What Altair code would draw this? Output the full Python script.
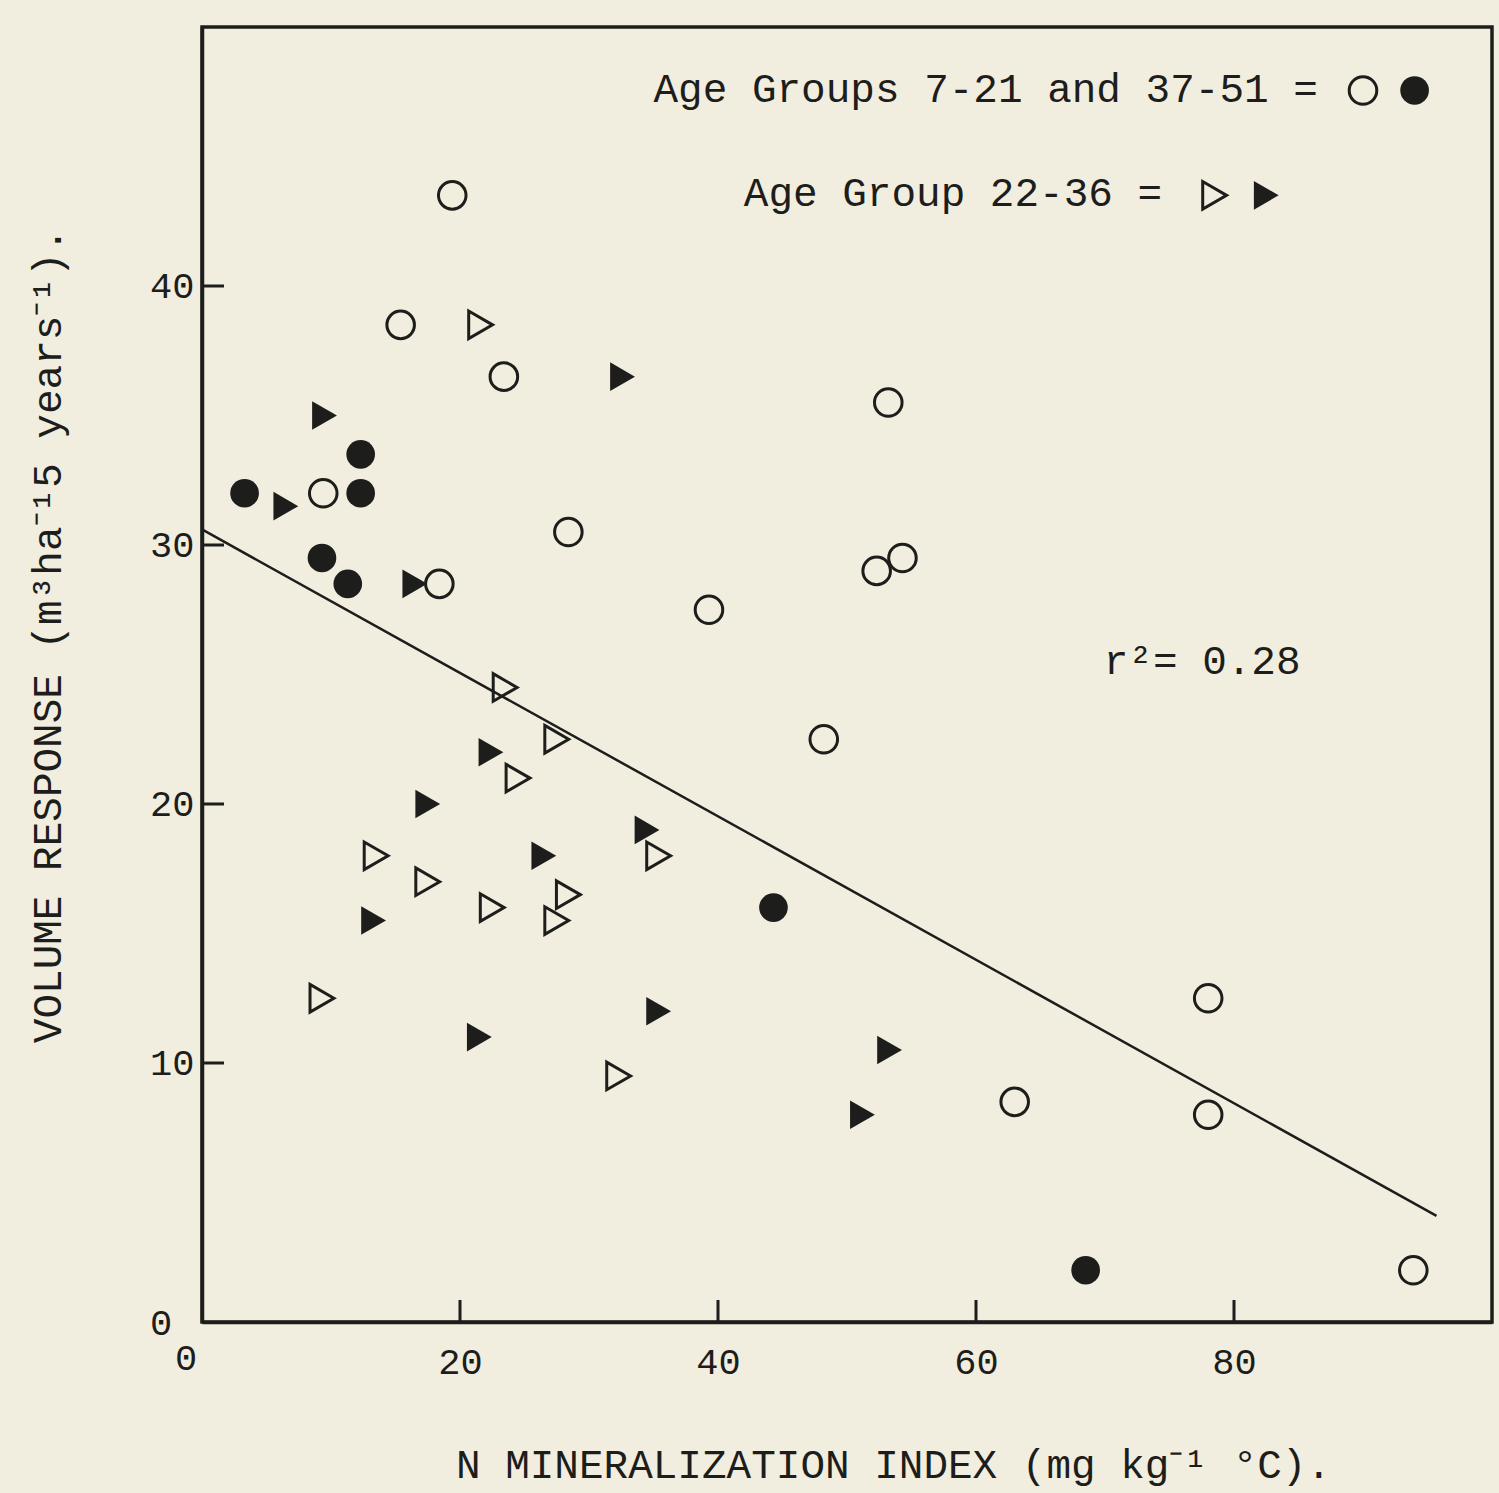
import altair as alt
import pandas as pd

INK = "#1d1d1b"
PAPER = "#f2eedf"
FONT = "Liberation Mono"

# Volume response vs N mineralization index
# Age groups 7-21 and 37-51 (circles)
open_circle_x = [19.4, 15.4, 23.4, 53.2, 9.4, 28.4, 54.3, 52.3, 18.4, 39.3, 48.2, 78.0, 63.0, 78.0, 93.9]
open_circle_y = [43.5, 38.5, 36.5, 35.5, 32.0, 30.5, 29.5, 29.0, 28.5, 27.5, 22.5, 12.5, 8.5, 8.0, 2.0]
filled_circle_x = [3.3, 12.3, 12.3, 9.3, 11.3, 44.3, 68.5]
filled_circle_y = [32.0, 33.5, 32.0, 29.5, 28.5, 16.0, 2.0]

# Age group 22-36 (triangles)
open_tri_x = [21.6, 23.5, 27.5, 24.5, 13.5, 17.5, 22.5, 28.4, 27.5, 35.4, 9.3, 32.3]
open_tri_y = [38.5, 24.5, 22.5, 21.0, 18.0, 17.0, 16.0, 16.5, 15.5, 18.0, 12.5, 9.5]
filled_tri_x = [32.6, 9.5, 6.5, 16.5, 22.4, 17.5, 34.5, 26.5, 13.3, 35.4, 21.5, 53.3, 51.2]
filled_tri_y = [36.5, 35.0, 31.5, 28.5, 22.0, 20.0, 19.0, 18.0, 15.5, 12.0, 11.0, 10.5, 8.0]

# Fitted regression line (end points)
reg_x = [0.0, 95.7]
reg_y = [30.6, 4.1]
r_squared = 0.28

x_ticks = [20, 40, 60, 80]
y_ticks = [10, 20, 30, 40]

W, H = 1290, 1295
TICK_LEN = 22


def df(xs, ys):
    return pd.DataFrame({"x": xs, "y": ys})


x_scale = alt.Scale(domain=[0, 100], nice=False, zero=False)
y_scale = alt.Scale(domain=[0, 50], nice=False, zero=False)

x_axis = alt.Axis(
    values=x_ticks, ticks=False, tickSize=0, grid=False,
    domainColor=INK, domainWidth=3.5,
    labelFont=FONT, labelFontSize=37, labelColor=INK, labelPadding=22,
    title="N MINERALIZATION INDEX (mg kg⁻¹ °C).",
    titleFont=FONT, titleFontSize=41, titleFontWeight="normal", titleColor=INK,
    titleX=691, titleY=143, titleAlign="center", titleBaseline="middle",
)
y_axis = alt.Axis(
    values=y_ticks, ticks=False, tickSize=0, grid=False,
    domainColor=INK, domainWidth=3.5,
    labelFont=FONT, labelFontSize=37, labelColor=INK, labelPadding=8,
    title="VOLUME RESPONSE (m³ha⁻¹5 years⁻¹).",
    titleFont=FONT, titleFontSize=41, titleFontWeight="normal", titleColor=INK,
    titleX=-154, titleY=608, titleAngle=270, titleAlign="center", titleBaseline="middle",
)

X = alt.X("x:Q", scale=x_scale, axis=x_axis)
Y = alt.Y("y:Q", scale=y_scale, axis=y_axis)

SYM_OPEN = 760
SYM_FILLED = 820


def points(data, shape, filled):
    if filled:
        mk = alt.Chart(data).mark_point(shape=shape, filled=True, size=SYM_FILLED, color=INK, opacity=1, strokeWidth=0)
    else:
        mk = alt.Chart(data).mark_point(shape=shape, filled=False, size=SYM_OPEN, color=INK, opacity=1, strokeWidth=3)
    return mk.encode(x=X, y=Y)


reg = alt.Chart(df(reg_x, reg_y)).mark_line(color=INK, strokeWidth=2.5).encode(x=X, y=Y)

x_tick_marks = alt.Chart(pd.DataFrame({"x": x_ticks})).mark_rule(color=INK, strokeWidth=3).encode(
    x=X, y=alt.value(H), y2=alt.value(H - TICK_LEN)
)
y_tick_marks = alt.Chart(pd.DataFrame({"y": y_ticks})).mark_rule(color=INK, strokeWidth=3).encode(
    y=Y, x=alt.value(0), x2=alt.value(TICK_LEN)
)

zero_labels = alt.Chart(pd.DataFrame({"t": ["0", "0"], "px": [-16, -41], "py": [1332, 1297]})).mark_text(
    font=FONT, fontSize=37, color=INK, align="center", baseline="middle"
).encode(x=alt.X("px:Q", scale=None), y=alt.Y("py:Q", scale=None), text="t:N")


def label(x, y, t, size=41, align="left"):
    return alt.Chart(pd.DataFrame({"x": [x], "y": [y], "t": [t]})).mark_text(
        font=FONT, fontSize=size, color=INK, align=align, baseline="middle"
    ).encode(x=X, y=Y, text="t:N")


legend = [
    label(35.0, 47.55, "Age Groups 7-21 and 37-51 ="),
    points(df([90.0], [47.55]), "circle", False),
    points(df([94.0], [47.55]), "circle", True),
    label(42.0, 43.55, "Age Group 22-36 ="),
    points(df([78.5], [43.5]), "triangle-right", False),
    points(df([82.5], [43.5]), "triangle-right", True),
    label(69.9, 25.5, f"r²= {r_squared:.2f}"),
]

chart = alt.layer(
    reg,
    x_tick_marks,
    y_tick_marks,
    points(df(open_circle_x, open_circle_y), "circle", False),
    points(df(filled_circle_x, filled_circle_y), "circle", True),
    points(df(open_tri_x, open_tri_y), "triangle-right", False),
    points(df(filled_tri_x, filled_tri_y), "triangle-right", True),
    zero_labels,
    *legend,
).properties(
    width=W,
    height=H,
    autosize=alt.AutoSizeParams(type="none"),
    padding={"left": 202, "top": 27, "right": 7, "bottom": 171},
    background=PAPER,
).configure_view(
    stroke=INK, strokeWidth=3.5
)

chart.save("out.html", embed_options={"renderer": "svg", "actions": False})
